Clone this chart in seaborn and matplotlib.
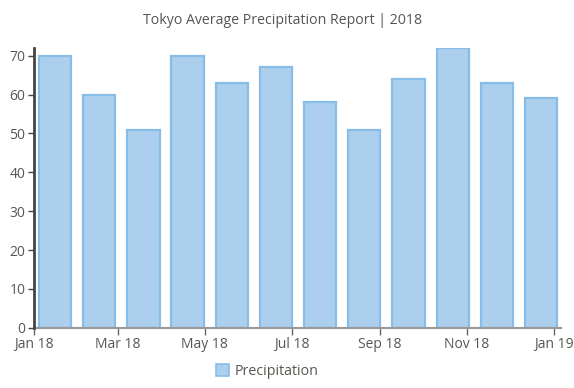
import matplotlib
matplotlib.use("Agg")
import matplotlib.pyplot as plt
import seaborn as sns
import pandas as pd
import numpy as np
from matplotlib.patches import Patch

months = ["Jan", "Feb", "Mar", "Apr", "May", "Jun", "Jul", "Aug", "Sep", "Oct", "Nov", "Dec"]
precipitation = [70, 60, 51, 70, 63, 67, 58, 51, 64, 72, 63, 59]
tick_dates = ["2018-01-01", "2018-03-01", "2018-05-01", "2018-07-01", "2018-09-01", "2018-11-01", "2019-01-01"]
tick_labels = ["Jan 18", "Mar 18", "May 18", "Jul 18", "Sep 18", "Nov 18", "Jan 19"]
y_ticks = [0, 10, 20, 30, 40, 50, 60, 70]

origin = pd.Timestamp("2018-01-01")
# bars are evenly spaced across the year (about 31 days apart, starting mid-January)
bar_days = [15 + 31 * i for i in range(len(months))]
tick_days = [(pd.Timestamp(d) - origin).days for d in tick_dates]

df = pd.DataFrame({"day": bar_days, "Precipitation": precipitation, "month": months})

sns.set_theme(style="white")
plt.rcParams["font.family"] = ["Open Sans", "DejaVu Sans"]

fig = plt.figure(figsize=(5.74, 3.88), dpi=100)
ax = fig.add_axes([0.0587, 0.1554, 0.9187, 0.7209])

fill = "#ABCFED"
edge = "#88BDE8"
sns.barplot(data=df, x="day", y="Precipitation", native_scale=True, width=0.73,
            color=fill, edgecolor=edge, linewidth=1.6, saturation=1, ax=ax)

ax.set_xlim(0, 370)
ax.set_ylim(0, 72)
ax.set_xticks(tick_days)
ax.set_xticklabels(tick_labels)
ax.set_yticks(y_ticks)
ax.set_xlabel("")
ax.set_ylabel("")

label_color = "#5a5550"
ax.tick_params(axis="x", which="both", bottom=True, length=5, width=1, color="#666666",
               labelsize=10, labelcolor=label_color, pad=2)
ax.tick_params(axis="y", which="both", left=True, length=4, width=1, color="#444444",
               labelsize=10, labelcolor=label_color, pad=2)

for s in ["top", "right"]:
    ax.spines[s].set_visible(False)
ax.spines["left"].set_color("#444444")
ax.spines["left"].set_linewidth(2)
ax.spines["bottom"].set_color("#999999")
ax.spines["bottom"].set_linewidth(1.5)
ax.spines["left"].set_zorder(5)

fig.text(0.492, 0.948, "Tokyo Average Precipitation Report | 2018", ha="center", va="center",
         fontsize=10.2, color="#555555")

handle = Patch(facecolor=fill, edgecolor=edge, linewidth=1.2, label="Precipitation")
fig.legend(handles=[handle], loc="center", bbox_to_anchor=(0.466, 0.043), frameon=False,
           fontsize=10.3, labelcolor=label_color, handlelength=0.9, handleheight=0.9,
           handletextpad=0.4)

fig.savefig("out.png", dpi=100)
